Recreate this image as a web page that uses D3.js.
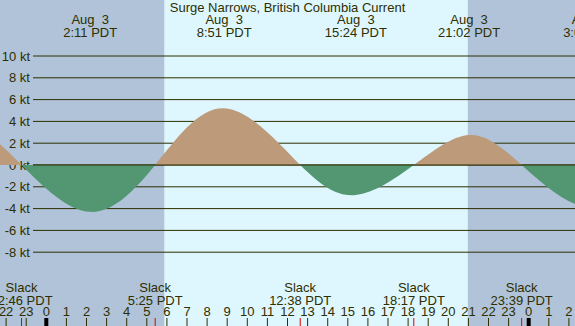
<!DOCTYPE html>
<html>
<head>
<meta charset="utf-8">
<script src="https://cdn.jsdelivr.net/npm/d3@7"></script>
<style>
  body { margin: 0; overflow: hidden; }
  svg { display: block; font-family: "Liberation Sans", Arial, sans-serif; }
  text { white-space: pre; }
</style>
</head>
<body>
<svg width="575" height="326"></svg>
<script>
// hours relative to Aug 3 00:00 PDT
const eventHours = [-7.6, -4.4, -1.233, 2.183, 5.417, 8.85, 12.633, 15.4, 18.283, 21.033, 23.65, 27.08, 30.4];
const eventKnots = [0, 3.9, 0, -4.3, 0, 5.2, 0, -2.75, 0, 2.75, 0, -3.9, 0];

const maxHours = [2.183, 8.85, 15.4, 21.033, 27.08];
const maxDates = ["Aug  3", "Aug  3", "Aug  3", "Aug  3", "Aug  4"];
const maxLabels = ["2:11 PDT", "8:51 PDT", "15:24 PDT", "21:02 PDT", "3:05 PDT"];

const slackHours = [-1.233, 5.417, 12.633, 18.283, 23.65];
const slackLabels = ["22:46 PDT", "5:25 PDT", "12:38 PDT", "18:17 PDT", "23:39 PDT"];

const sunriseHours = [5.87];
const sunsetHours = [20.97];

const yTicks = [-8, -6, -4, -2, 0, 2, 4, 6, 8, 10];
const hourTicks = d3.range(-2, 27);

const W = 575, H = 326;
const ink = "#2e2e00";
const fs = 13;

const svg = d3.select("svg");

const x = d3.scaleLinear().domain([0, 24]).range([46.3, 528.7]);
const y = d3.scaleLinear().domain([0, 10]).range([165, 56]);

// night / day background
svg.append("rect").attr("width", W).attr("height", H).attr("fill", "#b0c3d8");
sunriseHours.forEach((h, i) => {
  svg.append("rect")
    .attr("x", x(h)).attr("y", 0)
    .attr("width", x(sunsetHours[i]) - x(h)).attr("height", H)
    .attr("fill", "#def7fe");
});

// grid
svg.append("g")
  .selectAll("line")
  .data(yTicks)
  .join("line")
  .attr("x1", 33).attr("x2", W)
  .attr("y1", d => y(d)).attr("y2", d => y(d))
  .attr("stroke", ink).attr("stroke-width", 1);

svg.append("g")
  .selectAll("text")
  .data(yTicks)
  .join("text")
  .attr("x", 30).attr("y", d => y(d) + 4.5)
  .attr("text-anchor", "end")
  .attr("font-size", fs)
  .attr("fill", ink)
  .text(d => d + " kt");

// current curve
const pts = eventHours.map((h, i) => [h, eventKnots[i]]);
const area = d3.area()
  .x(d => x(d[0]))
  .y0(y(0))
  .y1(d => y(d[1]))
  .curve(d3.curveNatural);

const defs = svg.append("defs");
defs.append("clipPath").attr("id", "above")
  .append("rect").attr("x", 0).attr("y", 0).attr("width", W).attr("height", y(0));
defs.append("clipPath").attr("id", "below")
  .append("rect").attr("x", 0).attr("y", y(0)).attr("width", W).attr("height", H - y(0));

svg.append("path").datum(pts).attr("d", area)
  .attr("fill", "#bc9a7a").attr("clip-path", "url(#above)");
svg.append("path").datum(pts).attr("d", area)
  .attr("fill", "#529672").attr("clip-path", "url(#below)");

svg.append("line")
  .attr("x1", 33).attr("x2", W)
  .attr("y1", y(0)).attr("y2", y(0))
  .attr("stroke", ink);

// title
svg.append("text")
  .attr("x", W / 2).attr("y", 12)
  .attr("text-anchor", "middle")
  .attr("font-size", fs).attr("fill", ink)
  .text("Surge Narrows, British Columbia Current");

// max labels
const topG = svg.append("g").attr("font-size", fs).attr("fill", ink).attr("text-anchor", "middle");
maxHours.forEach((h, i) => {
  topG.append("text").attr("x", x(h)).attr("y", 24).text(maxDates[i]);
  topG.append("text").attr("x", x(h)).attr("y", 36.5).text(maxLabels[i]);
});

// slack labels
const botG = svg.append("g").attr("font-size", fs).attr("fill", ink).attr("text-anchor", "middle");
slackHours.forEach((h, i) => {
  botG.append("text").attr("x", x(h)).attr("y", 292).text("Slack");
  botG.append("text").attr("x", x(h)).attr("y", 304.5).text(slackLabels[i]);
});

// hour axis
svg.append("g")
  .selectAll("text")
  .data(hourTicks)
  .join("text")
  .attr("x", d => x(d)).attr("y", 316)
  .attr("text-anchor", "middle")
  .attr("font-size", fs).attr("fill", ink)
  .text(d => ((d % 24) + 24) % 24);

svg.append("g")
  .selectAll("rect")
  .data(hourTicks)
  .join("rect")
  .attr("x", d => x(d) - (d % 24 === 0 ? 2 : 0.5))
  .attr("y", 318)
  .attr("width", d => d % 24 === 0 ? 4 : 1)
  .attr("height", H - 318)
  .attr("fill", d => d % 24 === 0 ? "#000" : ink);

svg.append("g")
  .selectAll("rect")
  .data(slackHours)
  .join("rect")
  .attr("x", d => x(d) - 0.5)
  .attr("y", 318)
  .attr("width", 1)
  .attr("height", H - 318)
  .attr("fill", "#e00000");
</script>
</body>
</html>
